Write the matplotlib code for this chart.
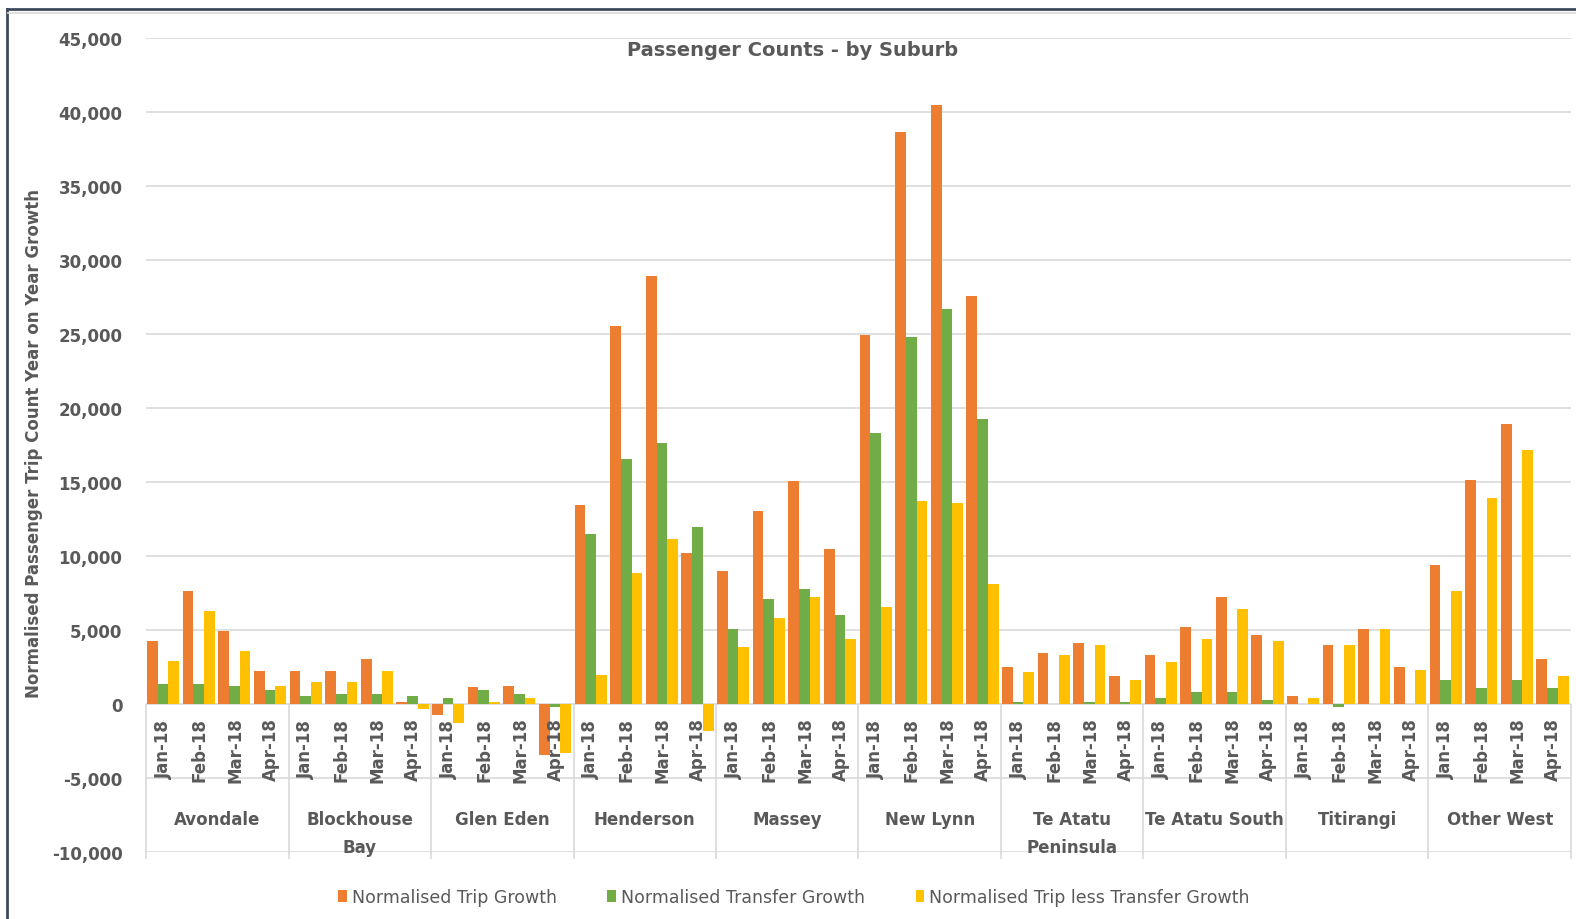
import numpy as np
import matplotlib
matplotlib.use("Agg")
import matplotlib.pyplot as plt
import matplotlib.transforms as mtransforms
from matplotlib.patches import Patch
from matplotlib.lines import Line2D
from matplotlib.ticker import FuncFormatter

plt.rcParams["font.family"] = ["DejaVu Sans"]

# 数据
suburbs = ["Avondale", "Blockhouse\nBay", "Glen Eden", "Henderson", "Massey", "New Lynn",
           "Te Atatu\nPeninsula", "Te Atatu South", "Titirangi", "Other West"]
months = ["Jan-18", "Feb-18", "Mar-18", "Apr-18"]

trip_growth = [4250, 7650, 4930, 2220,
               2220, 2220, 3030, 160,
               -770, 1130, 1240, -3460,
               13440, 25530, 28910, 10180,
               8970, 13020, 15080, 10450,
               24950, 38670, 40450, 27550,
               2470, 3420, 4100, 1920,
               3280, 5180, 7220, 4640,
               570, 3960, 5050, 2470,
               9410, 15110, 18940, 3010]

transfer_growth = [1380, 1380, 1240, 970,
                   570, 700, 700, 570,
                   430, 970, 700, -200,
                   11510, 16560, 17640, 11960,
                   5050, 7070, 7760, 6010,
                   18310, 24830, 26710, 19270,
                   140, 0, 140, 140,
                   410, 810, 810, 270,
                   0, -200, 0, 0,
                   1650, 1110, 1650, 1110]

trip_less_transfer = [2900, 6290, 3570, 1240,
                      1520, 1520, 2220, -340,
                      -1310, 160, 430, -3330,
                      1930, 8850, 11150, -1840,
                      3840, 5830, 7220, 4380,
                      6530, 13720, 13570, 8130,
                      2190, 3280, 3960, 1650,
                      2870, 4370, 6400, 4230,
                      430, 3960, 5050, 2330,
                      7620, 13890, 17150, 1920]

series_names = ["Normalised Trip Growth", "Normalised Transfer Growth",
                "Normalised Trip less Transfer Growth"]
colors = ["#ED7D31", "#70AD47", "#FFC000"]
text_col = "#595959"
grid_col = "#d9d9d9"

W, H = 1576, 920
fig = plt.figure(figsize=(W / 100, H / 100), dpi=100)
ax = fig.add_axes([146 / W, (H - 853) / H, (1571 - 146) / W, (853 - 39) / H])

n = len(trip_growth)
x = np.arange(n)
w = 0.3
shift = -0.02
for k, vals in enumerate([trip_growth, transfer_growth, trip_less_transfer]):
    ax.bar(x + shift + (k - 1) * w, vals, w, color=colors[k], label=series_names[k], zorder=3)

ax.set_xlim(-0.5, n - 0.5)
ax.set_ylim(-10000, 45000)
ax.set_yticks(range(-10000, 45001, 5000))
ax.yaxis.set_major_formatter(FuncFormatter(lambda v, p: f"{int(v):,}"))
ax.tick_params(axis="y", length=0, pad=17, labelsize=12, labelcolor=text_col)
for t in ax.get_yticklabels():
    t.set_fontweight("bold")
ax.set_xticks([])
ax.grid(axis="y", color=grid_col, lw=1.2, zorder=0)
for s in ax.spines.values():
    s.set_visible(False)

# 多级分类轴
trans = mtransforms.blended_transform_factory(ax.transData, ax.transAxes)
for i in range(n):
    ax.text(i, 0.1265, months[i % 4], transform=trans, rotation=90, ha="center", va="center",
            fontsize=12, fontweight="bold", color=text_col)
for g, name in enumerate(suburbs):
    ax.text(4 * g + 1.5, 0.052, name, transform=trans, ha="center", va="top",
            fontsize=12, fontweight="bold", color=text_col, linespacing=1.75)
ax.vlines(np.arange(0, n + 1, 4) - 0.5, -10500, 0, color=grid_col, lw=1.2, clip_on=False, zorder=1)

# 标题、轴标题
fig.text(793 / W, 1 - 50 / H, "Passenger Counts - by Suburb", ha="center", va="center",
         fontsize=14, fontweight="bold", color=text_col)
fig.text(34 / W, 1 - 444 / H, "Normalised Passenger Trip Count Year on Year Growth",
         rotation=90, ha="center", va="center", fontsize=12, fontweight="bold", color=text_col)

# 图例
handles = [Patch(facecolor=c, edgecolor="none") for c in colors]
fig.legend(handles, series_names, loc="center", bbox_to_anchor=(794 / W, 1 - 898 / H), ncol=3,
           frameon=False, fontsize=12.5, labelcolor=text_col, handlelength=0.5, handleheight=0.75,
           handletextpad=0.3, columnspacing=2.9)

# 截图边框
fig.add_artist(Line2D([7 / W, 7 / W], [0, 1 - 9.5 / H], color="#3d4b5c", lw=2))
fig.add_artist(Line2D([7 / W, 1], [1 - 9.5 / H, 1 - 9.5 / H], color="#3d4b5c", lw=2))
fig.add_artist(Line2D([8 / W, 1], [1 - 14 / H, 1 - 14 / H], color=grid_col, lw=1.2))

fig.savefig("out.png", dpi=100, facecolor="white")
